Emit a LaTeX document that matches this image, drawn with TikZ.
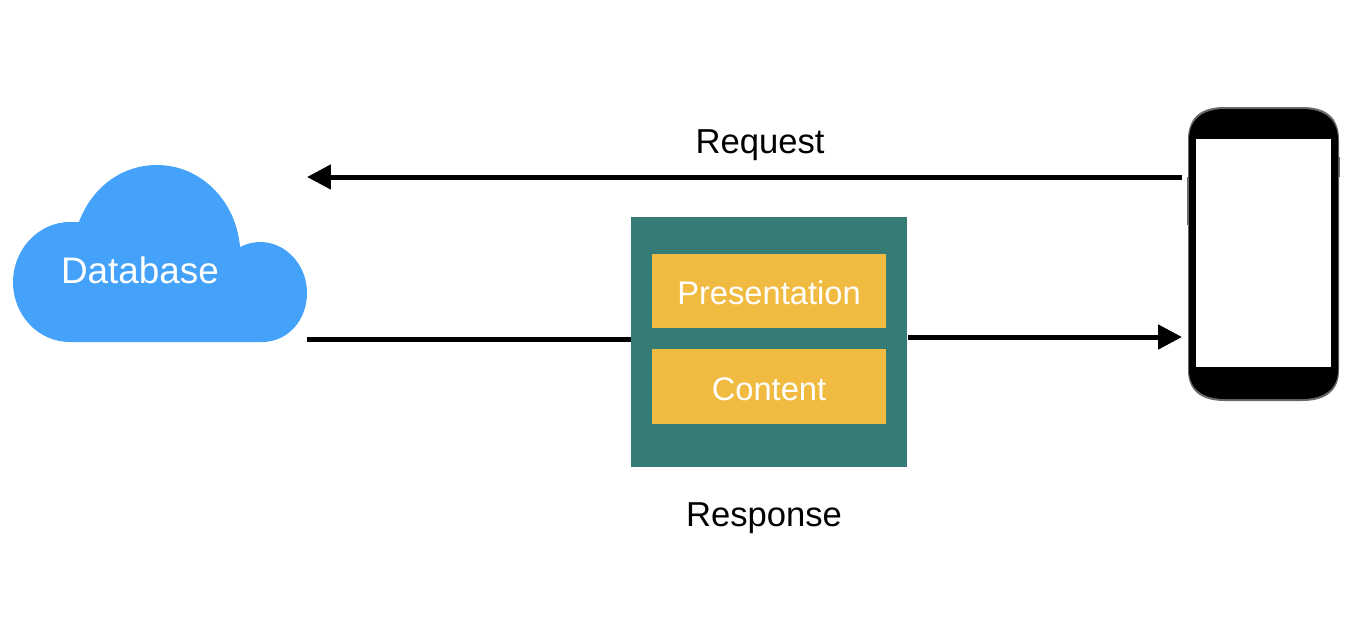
\documentclass[tikz,border=0pt]{standalone}
\usepackage{fontspec}
\setmainfont{Liberation Sans}
\usetikzlibrary{
    arrows.meta,
    positioning
}
\definecolor{CloudBlue}{RGB}{68,162,250}
\definecolor{BoxTeal}{RGB}{53,123,118}
\definecolor{BoxYellow}{RGB}{241,187,65}
\definecolor{PhoneRim}{RGB}{105,105,105}
\tikzset{
  layer/.style   = {fill=BoxYellow, minimum width=4.68cm, minimum height=1.48cm,
                    inner sep=0pt, text=white, text height=0.54cm, text depth=0pt,
                    font=\fontsize{18.6}{20}\selectfont},
  wrapbox/.style = {fill=BoxTeal, minimum width=5.52cm, minimum height=5cm, inner sep=0pt},
  caption/.style = {anchor=base, inner sep=0pt, font=\fontsize{19.7}{22}\selectfont},
  arr/.style     = {-{Triangle[length=0.48cm,width=0.48cm]}, line width=0.1cm},
  plain/.style   = {line width=0.1cm}
}
\begin{document}
\begin{tikzpicture}[x=0.02cm, y=-0.02cm]
\useasboundingbox (0,0) rectangle (1356,632);
% cloud
\fill[CloudBlue] (70,342) -- (262,342) .. controls (288,342) and (307,320) .. (307,293)
  .. controls (307,265) and (286,242) .. (260,242) .. controls (253,242) and (246,244) .. (240,247)
  .. controls (236,200) and (200,165) .. (157,165) .. controls (122,165) and (92,187) .. (79,222)
  .. controls (76,222) and (73,222) .. (70,222) .. controls (38,222) and (13,250) .. (13,282)
  .. controls (13,315) and (38,342) .. (70,342) -- cycle;
\node[inner sep=0pt, text=white, font=\fontsize{21}{22}\selectfont] (database) at (140,270) {Database};
% phone
\fill[PhoneRim] (1187,177) rectangle (1190,225);
\fill[PhoneRim] (1337,157) rectangle (1340,177);
\fill[PhoneRim] (1188,140) .. controls (1188,118) and (1200,107) .. (1225,107) -- (1302,107)
  .. controls (1327,107) and (1339,118) .. (1339,140) -- (1339,370)
  .. controls (1339,390) and (1327,401) .. (1302,401) -- (1225,401)
  .. controls (1200,401) and (1188,390) .. (1188,370) -- cycle;
\fill[black] (1189,140) .. controls (1189,120) and (1202,109) .. (1225,109) -- (1302,109)
  .. controls (1325,109) and (1338,120) .. (1338,140) -- (1338,370)
  .. controls (1338,388) and (1325,399) .. (1302,399) -- (1225,399)
  .. controls (1202,399) and (1189,388) .. (1189,370) -- cycle;
\node[fill=white, minimum width=2.7cm, minimum height=4.56cm, inner sep=0pt] (screen) at (1263.5,253) {};
% middle box
\node[wrapbox] (wrap) at (769,342) {};
\node[layer] (present) at (769,291) {Presentation};
\node[layer, below=0.41cm of present, minimum height=1.5cm] (content) {Content};
% labels
\node[caption] (request) at (760,153) {Request};
\node[caption] (response) at (764,526) {Response};
% connector ends
\coordinate (reqstart) at (1182,177);
\coordinate (reqend) at (307,177);
\coordinate (resstart) at (307,339);
\coordinate (resout) at (908,337);
\coordinate (resend) at (1182,337);
\draw[arr] (reqstart) -- (reqend);
\draw[plain] (resstart) -- (resstart -| wrap.west);
\draw[arr] (resout) -- (resend);
\end{tikzpicture}
\end{document}
